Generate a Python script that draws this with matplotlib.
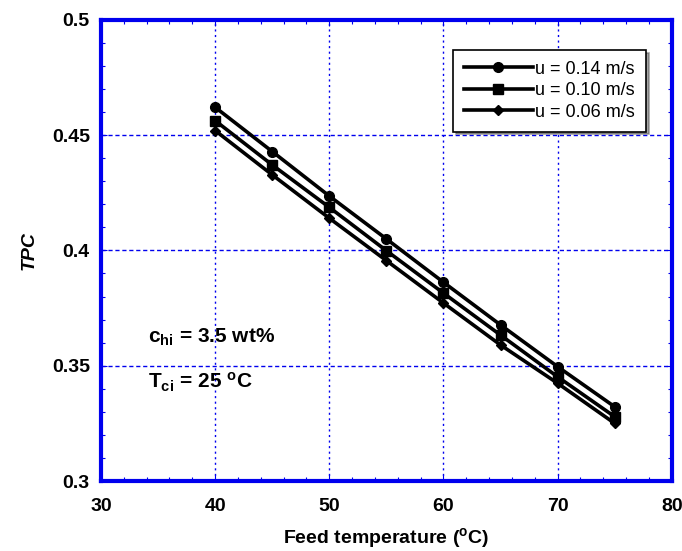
import matplotlib
matplotlib.use("Agg")
import matplotlib.pyplot as plt
from matplotlib.ticker import MultipleLocator

plt.rcParams["font.family"] = ["Liberation Sans", "DejaVu Sans"]
plt.rcParams["mathtext.fontset"] = "custom"
plt.rcParams["mathtext.rm"] = "Liberation Sans:bold"
plt.rcParams["mathtext.it"] = "Liberation Sans:bold:italic"
plt.rcParams["mathtext.bf"] = "Liberation Sans:bold"

# data
feed_temp = [40, 45, 50, 55, 60, 65, 70, 75]
tpc_u014 = [0.4621, 0.4429, 0.4236, 0.4050, 0.3862, 0.3677, 0.3496, 0.3322]
tpc_u010 = [0.4563, 0.4371, 0.4187, 0.3999, 0.3815, 0.3633, 0.3452, 0.3279]
tpc_u006 = [0.4520, 0.4328, 0.4140, 0.3956, 0.3772, 0.3590, 0.3424, 0.3250]
series_labels = ["u = 0.14 m/s", "u = 0.10 m/s", "u = 0.06 m/s"]

blue = "#0000ee"

fig = plt.figure(figsize=(6.82, 5.51), dpi=100)
ax = fig.add_axes([0.148, 0.127, 0.837, 0.837])

ax.plot(feed_temp, tpc_u014, color="black", lw=2.6, marker="o", ms=7,
        label=series_labels[0])
ax.plot(feed_temp, tpc_u010, color="black", lw=2.6, marker="s", ms=7.5,
        label=series_labels[1])
ax.plot(feed_temp, tpc_u006, color="black", lw=2.6, marker="D", ms=5,
        label=series_labels[2])

ax.set_xlim(30, 80)
ax.set_ylim(0.3, 0.5)
ax.xaxis.set_minor_locator(MultipleLocator(2))
ax.yaxis.set_minor_locator(MultipleLocator(0.01))
ax.set_xticks([30, 40, 50, 60, 70, 80])
ax.set_xticklabels(["30", "40", "50", "60", "70", "80"])
ax.set_yticks([0.3, 0.35, 0.4, 0.45, 0.5])
ax.set_yticklabels(["0.3", "0.35", "0.4", "0.45", "0.5"])

for spine in ax.spines.values():
    spine.set_color(blue)
    spine.set_linewidth(3)

ax.tick_params(which="both", direction="in", top=True, right=True,
               color=blue, labelsize=14)
ax.tick_params(axis="x", pad=12)
ax.tick_params(axis="y", pad=8)
ax.tick_params(which="major", length=4, width=0.8)
ax.tick_params(which="minor", length=3, width=0.8)
for lab in ax.get_xticklabels() + ax.get_yticklabels():
    lab.set_fontweight("bold")

ax.xaxis.grid(True, color=blue, linestyle=(0, (1.5, 2.5)), lw=1)
ax.yaxis.grid(True, color=blue, linestyle=(0, (3, 2)), lw=1)
ax.set_axisbelow(True)

ax.set_xlabel("Feed temperature ($^\\mathrm{o}$C)", fontsize=14,
              fontweight="bold", labelpad=8)
ax.set_ylabel("TPC", fontsize=14, fontweight="bold", style="italic",
              labelpad=10)

ax.text(0.083, 0.3, "c$_\\mathrm{hi}$ = 3.5 wt%", transform=ax.transAxes,
        fontsize=15, fontweight="bold")
ax.text(0.083, 0.2, "T$_\\mathrm{ci}$ = 25 $^\\mathrm{o}$C",
        transform=ax.transAxes, fontsize=15, fontweight="bold")

leg = ax.legend(loc="upper right", bbox_to_anchor=(0.955, 0.935),
                fontsize=13, frameon=True, fancybox=False, shadow=True,
                handlelength=3.8, handletextpad=0.15, borderpad=0.6,
                labelspacing=0.25, borderaxespad=0)
leg.get_frame().set_edgecolor("black")
leg.get_frame().set_linewidth(1.2)

fig.savefig("out.png", dpi=100)
